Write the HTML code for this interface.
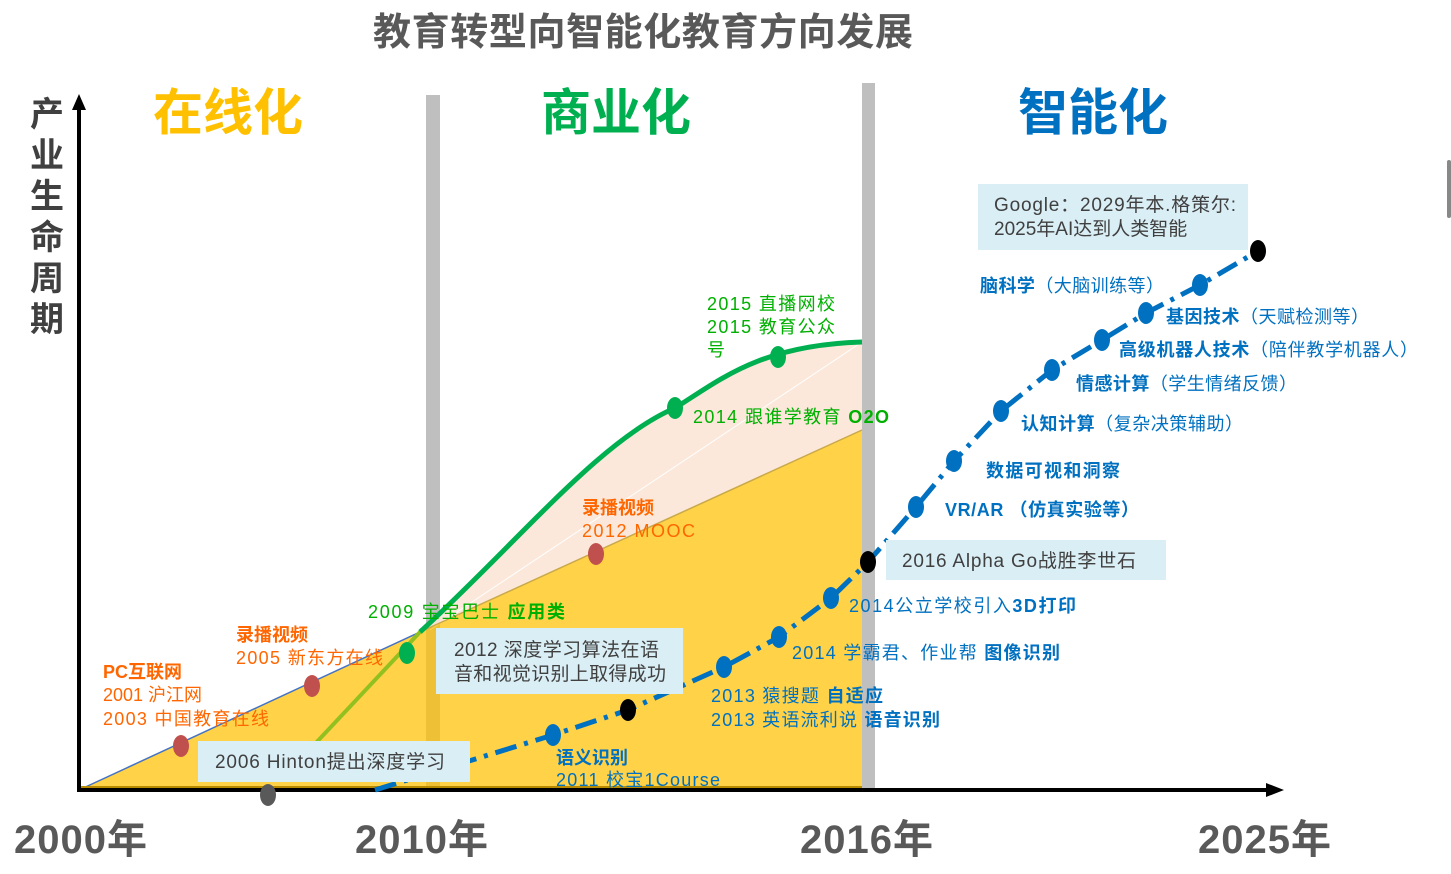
<!DOCTYPE html>
<html><head><meta charset="utf-8"><style>
html,body{margin:0;padding:0;background:#fff;}
svg{display:block;font-family:"Liberation Sans","Noto Sans CJK SC",sans-serif;}
</style></head><body>
<svg width="1451" height="874" viewBox="0 0 1451 874" xmlns="http://www.w3.org/2000/svg">
<rect width="1451" height="874" fill="#fff"/>
<rect x="1447" y="160" width="4" height="58" rx="2" fill="#888"/>
<!-- gray bars -->
<rect x="426" y="95" width="14" height="695" fill="#bfbfbf"/>
<rect x="862" y="83" width="13" height="707" fill="#bfbfbf"/>
<!-- peach region -->
<path d="M420,632 C520,540 600,440 675,408 C720,380 760,350 862,342 L862,430 Z" fill="#fbe5d6" opacity="0.9"/>
<line x1="430" y1="630" x2="862" y2="342" stroke="#fff" stroke-width="1"/>
<!-- yellow region -->
<path d="M79,790 L420,632 L862,430 L862,790 Z" fill="#ffc000" opacity="0.72"/>
<line x1="420" y1="632" x2="862" y2="430" stroke="#c9a94a" stroke-width="1.5"/>
<line x1="79" y1="790" x2="420" y2="632" stroke="#4472c4" stroke-width="1.5"/>
<rect x="79" y="786" width="783" height="4" fill="#b88a00"/>
<!-- olive + green -->
<line x1="298" y1="762" x2="420" y2="632" stroke="#92c020" stroke-width="4"/>
<path d="M420,632 C520,540 600,440 675,408 C720,380 760,345 862,342" fill="none" stroke="#00b050" stroke-width="5"/>
<!-- axes -->
<line x1="79" y1="790" x2="79" y2="108" stroke="#000" stroke-width="4"/>
<polygon points="79,94 72,110 86,110" fill="#000"/>
<line x1="77" y1="790" x2="1268" y2="790" stroke="#000" stroke-width="4"/>
<polygon points="1284,790 1266,783 1266,797" fill="#000"/>
<!-- blue dashed -->
<polyline points="375,790 553,735 628,710 724,667 779,637 831,598 868,562 916,507 954,461 1001,411 1052,370 1102,340 1146,313 1200,285 1258,251" fill="none" stroke="#0070c0" stroke-width="5" stroke-dasharray="22,8,4,8"/>
<!-- dots -->
<g fill="#c0504d"><ellipse cx="181" cy="746" rx="8" ry="11"/><ellipse cx="312" cy="686" rx="8" ry="11"/><ellipse cx="596" cy="554" rx="8" ry="11"/></g>
<g fill="#00b050"><ellipse cx="407" cy="653" rx="8" ry="11"/><ellipse cx="675" cy="408" rx="8" ry="11"/><ellipse cx="778" cy="357" rx="8" ry="11"/></g>
<ellipse cx="268" cy="795" rx="8" ry="11" fill="#595959"/>
<g fill="#000"><ellipse cx="628" cy="710" rx="8" ry="11"/><ellipse cx="868" cy="562" rx="8" ry="11"/><ellipse cx="1258" cy="251" rx="8" ry="11"/></g>
<g fill="#0070c0">
<ellipse cx="553" cy="735" rx="8" ry="11"/><ellipse cx="724" cy="667" rx="8" ry="11"/><ellipse cx="779" cy="637" rx="8" ry="11"/><ellipse cx="831" cy="598" rx="8" ry="11"/><ellipse cx="916" cy="507" rx="8" ry="11"/><ellipse cx="954" cy="461" rx="8" ry="11"/><ellipse cx="1001" cy="411" rx="8" ry="11"/><ellipse cx="1052" cy="370" rx="8" ry="11"/><ellipse cx="1102" cy="340" rx="8" ry="11"/><ellipse cx="1146" cy="313" rx="8" ry="11"/><ellipse cx="1200" cy="285" rx="8" ry="11"/></g>
<!-- boxes -->
<g fill="#daeef5">
<rect x="198" y="741" width="272" height="41"/>
<rect x="436" y="628" width="247" height="66"/>
<rect x="978" y="184" width="270" height="66"/>
<rect x="886" y="540" width="280" height="40"/>
</g>
<g font-size="19" fill="#404040">
<text x="215" y="768" textLength="230">2006 Hinton提出深度学习</text>
<text x="454" y="656" textLength="205">2012 深度学习算法在语</text>
<text x="454" y="680" textLength="212">音和视觉识别上取得成功</text>
<text x="994" y="211" textLength="242">Google：2029年本.格策尔:</text>
<text x="994" y="235">2025年AI达到人类智能</text>
<text x="902" y="567" textLength="234">2016 Alpha Go战胜李世石</text>
</g>
<!-- title & headers -->
<text x="643" y="45" font-size="38" font-weight="bold" fill="#595959" text-anchor="middle" textLength="540">教育转型向智能化教育方向发展</text>
<text x="228" y="130" font-size="50" font-weight="bold" fill="#ffc000" text-anchor="middle">在线化</text>
<text x="616" y="130" font-size="50" font-weight="bold" fill="#00b050" text-anchor="middle">商业化</text>
<text x="1093" y="130" font-size="50" font-weight="bold" fill="#0070c0" text-anchor="middle">智能化</text>
<g font-size="34" font-weight="bold" fill="#404040" text-anchor="middle">
<text x="47" y="126">产</text><text x="47" y="167">业</text><text x="47" y="208">生</text><text x="47" y="249">命</text><text x="47" y="290">周</text><text x="47" y="331">期</text></g>
<g font-size="40" font-weight="bold" fill="#595959">
<text x="14" y="853" textLength="133">2000年</text><text x="355" y="853" textLength="133">2010年</text><text x="800" y="853" textLength="133">2016年</text><text x="1198" y="853" textLength="133">2025年</text></g>
<!-- orange labels -->
<g font-size="18" fill="#ff6600">
<text x="103" y="678" font-weight="bold">PC互联网</text>
<text x="103" y="701">2001 沪江网</text>
<text x="103" y="725" textLength="166">2003 中国教育在线</text>
<text x="236" y="641" font-weight="bold">录播视频</text>
<text x="236" y="664" textLength="147">2005 新东方在线</text>
<text x="582" y="514" font-weight="bold">录播视频</text>
<text x="582" y="537" textLength="113">2012 MOOC</text>
</g>
<!-- green labels -->
<g font-size="18" fill="#00b000">
<text x="368" y="618" textLength="197">2009 宝宝巴士 <tspan font-weight="bold">应用类</tspan></text>
<text x="693" y="423" textLength="196">2014 跟谁学教育 <tspan font-weight="bold">O2O</tspan></text>
<text x="707" y="310" textLength="128">2015 直播网校</text>
<text x="707" y="333" textLength="128">2015 教育公众</text>
<text x="707" y="356">号</text>
</g>
<!-- blue labels -->
<g font-size="18" fill="#0070c0">
<text x="556" y="764" font-weight="bold">语义识别</text>
<text x="556" y="786" textLength="164">2011 校宝1Course</text>
<text x="711" y="702" textLength="172">2013 猿搜题 <tspan font-weight="bold">自适应</tspan></text>
<text x="711" y="726" textLength="229">2013 英语流利说 <tspan font-weight="bold">语音识别</tspan></text>
<text x="792" y="659" textLength="268">2014 学霸君、作业帮 <tspan font-weight="bold">图像识别</tspan></text>
<text x="849" y="612" textLength="227">2014公立学校引入<tspan font-weight="bold">3D打印</tspan></text>
<text x="945" y="516" font-weight="bold" textLength="194">VR/AR （仿真实验等）</text>
<text x="986" y="477" font-weight="bold" textLength="134">数据可视和洞察</text>
<text x="1021" y="430" textLength="222"><tspan font-weight="bold">认知计算</tspan>（复杂决策辅助）</text>
<text x="1076" y="390" textLength="221"><tspan font-weight="bold">情感计算</tspan>（学生情绪反馈）</text>
<text x="1119" y="356" textLength="299"><tspan font-weight="bold">高级机器人技术</tspan>（陪伴教学机器人）</text>
<text x="1166" y="323" textLength="203"><tspan font-weight="bold">基因技术</tspan>（天赋检测等）</text>
<text x="980" y="292" textLength="184"><tspan font-weight="bold">脑科学</tspan>（大脑训练等）</text>
</g>
</svg>
</body></html>
